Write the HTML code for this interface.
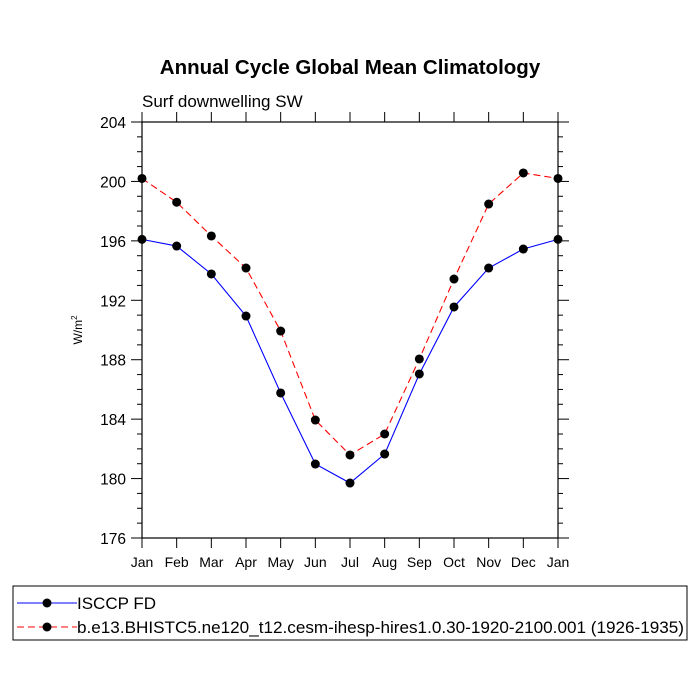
<!DOCTYPE html>
<html><head><meta charset="utf-8"><style>body{margin:0;background:#fff}svg{display:block;font-family:"Liberation Sans",sans-serif}</style></head>
<body>
<svg width="700" height="700" id="c">
<text x="350" y="74" text-anchor="middle" font-size="20.5" font-weight="bold">Annual Cycle Global Mean Climatology</text>
<text x="142" y="107" font-size="17">Surf downwelling SW</text>
<text transform="translate(82,330) rotate(-90)" text-anchor="middle" font-size="12">W/m<tspan dy="-5" font-size="8">2</tspan></text>
<rect x="142" y="122" width="416" height="416" fill="none" stroke="#000" stroke-width="1.2"/>
<g id="ax"></g><g id="series"></g>
<rect x="13" y="586" width="674" height="54" fill="none" stroke="#000" stroke-width="1"/>
<g><line x1="17" y1="603" x2="77" y2="603" stroke="#00f"/><circle cx="47" cy="603" r="4.5"/><text x="77" y="609" font-size="17">ISCCP FD</text></g>
<g><line x1="17" y1="627" x2="77" y2="627" stroke="#f00" stroke-dasharray="7,4"/><circle cx="47" cy="627" r="4.5"/><text x="77" y="633" font-size="17" textLength="607" lengthAdjust="spacingAndGlyphs">b.e13.BHISTC5.ne120_t12.cesm-ihesp-hires1.0.30-1920-2100.001 (1926-1935)</text></g>
</svg>
<script>
const months=["Jan","Feb","Mar","Apr","May","Jun","Jul","Aug","Sep","Oct","Nov","Dec","Jan"];
const isccp=[196.1,195.65,193.77,190.94,185.76,180.98,179.7,181.65,187.04,191.55,194.17,195.45,196.1];
const cesm=[200.2,198.6,196.33,194.17,189.93,183.94,181.59,183.0,188.05,193.43,198.48,200.57,200.2];
const yTicks=[176,180,184,188,192,196,200,204];
const NS="http://www.w3.org/2000/svg";
const X0=142,X1=558,Y0=538,Y1=122,YMIN=176,YMAX=204;
const xs=i=>X0+i*(X1-X0)/(months.length-1);
const ys=v=>Y0-(v-YMIN)/(YMAX-YMIN)*(Y0-Y1);
function mk(t,a,p){const e=document.createElementNS(NS,t);for(const k in a)e.setAttribute(k,a[k]);p.appendChild(e);return e;}
const ax=document.getElementById('ax');
for(let v=YMIN;v<=YMAX;v++){const maj=(v-YMIN)%4===0;const L=maj?11:5;
 const a=mk('line',{x1:X0-L,x2:X0,y1:ys(v),y2:ys(v),stroke:'#000'},ax);
 
 
 const b=mk('line',{x1:X1,x2:X1+L,y1:ys(v),y2:ys(v),stroke:'#000'},ax);
 
 }
yTicks.forEach(v=>{const t=mk('text',{x:X0-16,y:ys(v)+6,'text-anchor':'end','font-size':15.5},ax);t.textContent=v;
 
 });
months.forEach((m,i)=>{const x=xs(i);
 const a=mk('line',{x1:x,x2:x,y1:Y0,y2:Y0+10,stroke:'#000'},ax);
 
 
 const b=mk('line',{x1:x,x2:x,y1:Y1-10,y2:Y1,stroke:'#000'},ax);
 
 
 const t=mk('text',{x:x,y:Y0+29,'text-anchor':'middle','font-size':14},ax);t.textContent=m;
 
 });
const sg=document.getElementById('series');
function draw(d,col,dash,name){
 const p=mk('polyline',{points:d.map((v,i)=>xs(i)+','+ys(v)).join(' '),fill:'none',stroke:col,'stroke-width':1.1,'stroke-dasharray':dash},sg);
 
 
 d.forEach((v,i)=>{const c=mk('circle',{cx:xs(i),cy:ys(v),r:4.5,fill:'#000'},sg);
  
  });}
draw(cesm,'#f00','7,4','cesm');
draw(isccp,'#00f','none','isccp');
</script>
</body></html>
